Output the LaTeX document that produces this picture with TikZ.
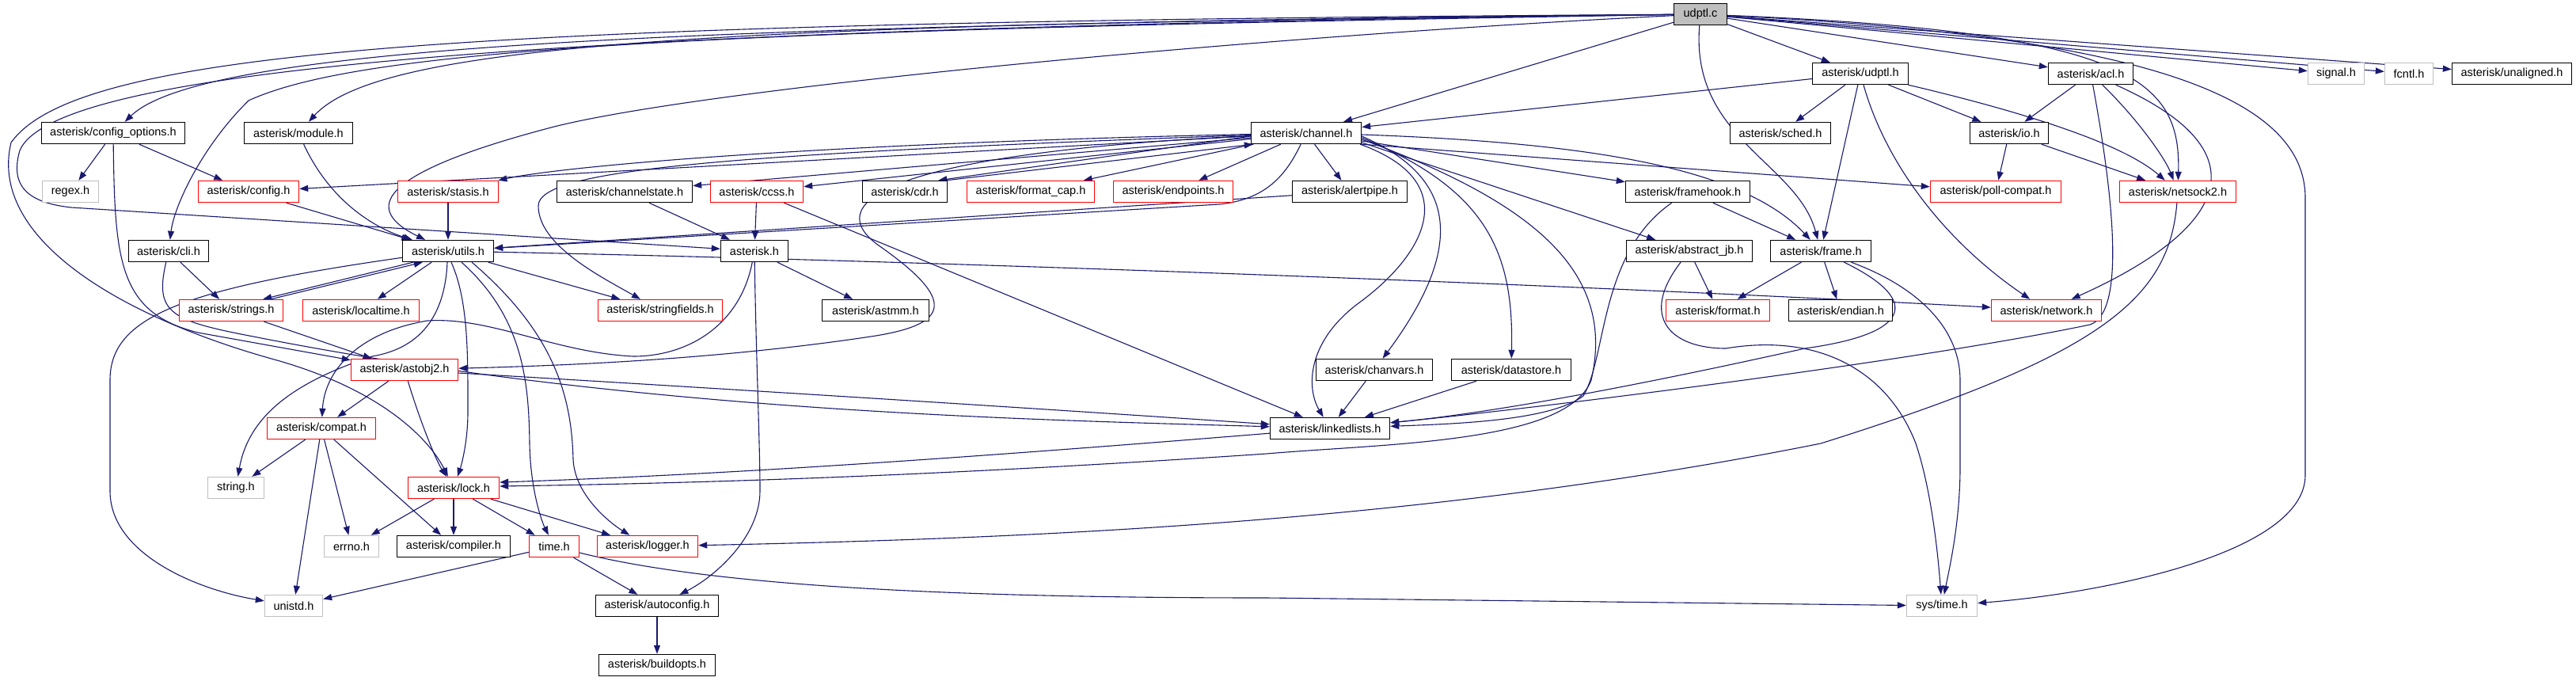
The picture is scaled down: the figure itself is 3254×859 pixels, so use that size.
\documentclass[tikz,border=0pt]{standalone}
\usepackage{fontspec}
\setmainfont{Liberation Sans}
\usetikzlibrary{arrows.meta,calc}
\definecolor{edgeblue}{HTML}{191970}
\definecolor{boxgray}{HTML}{BFBFBF}
\definecolor{boxred}{HTML}{FF0000}
\newcommand\nodefontsize{\fontsize{14.5}{17}\selectfont}
\pgfdeclarelayer{back}
\pgfdeclarelayer{edges}
\pgfsetlayers{back,edges,main}
\begin{document}
\begin{tikzpicture}[x=1pt,y=-1pt,
  nb/.style={draw=black, line width=1.4pt, fill=white, minimum height=27pt, inner sep=0pt, font=\nodefontsize},
  nr/.style={nb, draw=boxred},
  ng/.style={nb, draw=boxgray},
  nroot/.style={nb, fill=boxgray},
  dep/.style={draw=edgeblue, line width=1.1pt, -{Triangle[length=11pt,width=8pt]}}]
\begin{pgfonlayer}{back}
\fill[white] (0,0) rectangle (3254,859);
\end{pgfonlayer}
\useasboundingbox (0,0) rectangle (3254,859);
% row 1
\node[nroot, minimum width=67pt] (udptl) at (2148,18) {udptl.c};
% row 2
\node[nb, minimum width=121pt] (udptlh) at (2350,93) {asterisk/udptl.h};
\node[nb, minimum width=107pt] (acl) at (2641,93) {asterisk/acl.h};
\node[ng, minimum width=71pt] (signal) at (2951,93) {signal.h};
\node[ng, minimum width=61pt] (fcntl) at (3043,93) {fcntl.h};
\node[nb, minimum width=151pt] (unaligned) at (3173,93) {asterisk/unaligned.h};
% row 3
\node[nb, minimum width=181pt] (cfgopt) at (143,168) {asterisk/config\_options.h};
\node[nb, minimum width=137pt] (module) at (377,168) {asterisk/module.h};
\node[nb, minimum width=139pt] (channel) at (1650,168) {asterisk/channel.h};
\node[nb, minimum width=127pt] (sched) at (2249,168) {asterisk/sched.h};
\node[nb, minimum width=99pt] (io) at (2538,168) {asterisk/io.h};
% row 4
\node[ng, minimum width=71pt] (regex) at (89,242) {regex.h};
\node[nr, minimum width=127pt] (config) at (314,242) {asterisk/config.h};
\node[nr, minimum width=127pt] (stasis) at (566,242) {asterisk/stasis.h};
\node[nb, minimum width=171pt] (chstate) at (789,242) {asterisk/channelstate.h};
\node[nr, minimum width=117pt] (ccss) at (956,242) {asterisk/ccss.h};
\node[nb, minimum width=107pt] (cdr) at (1143,242) {asterisk/cdr.h};
\node[nr, minimum width=161pt] (fmtcap) at (1302,242) {asterisk/format\_cap.h};
\node[nr, minimum width=151pt] (endpoints) at (1482,242) {asterisk/endpoints.h};
\node[nb, minimum width=145pt] (alertpipe) at (1705,242) {asterisk/alertpipe.h};
\node[nb, minimum width=157pt] (framehook) at (2132,242) {asterisk/framehook.h};
\node[nr, minimum width=165pt] (pollcompat) at (2521,242) {asterisk/poll-compat.h};
\node[nr, minimum width=147pt] (netsock) at (2751,242) {asterisk/netsock2.h};
% row 5
\node[nb, minimum width=101pt] (cli) at (213,317) {asterisk/cli.h};
\node[nb, minimum width=115pt] (utils) at (566,317) {asterisk/utils.h};
\node[nb, minimum width=85pt] (asterisk) at (953,317) {asterisk.h};
\node[nb, minimum width=159pt] (abjb) at (2134,317) {asterisk/abstract\_jb.h};
\node[nb, minimum width=127pt] (frame) at (2300,317) {asterisk/frame.h};
% row 6
\node[nr, minimum width=131pt] (strings) at (292,392) {asterisk/strings.h};
\node[nr, minimum width=147pt] (localtime) at (456,392) {asterisk/localtime.h};
\node[nr, minimum width=157pt] (strfields) at (834,392) {asterisk/stringfields.h};
\node[nb, minimum width=135pt] (astmm) at (1106,392) {asterisk/astmm.h};
\node[nr, minimum width=131pt] (format) at (2170,392) {asterisk/format.h};
\node[nb, minimum width=131pt] (endian) at (2325,392) {asterisk/endian.h};
\node[nr, minimum width=139pt] (network) at (2585,392) {asterisk/network.h};
% row 7
\node[nr, minimum width=135pt] (astobj) at (511,467) {asterisk/astobj2.h};
\node[nb, minimum width=147pt] (chanvars) at (1736,467) {asterisk/chanvars.h};
\node[nb, minimum width=151pt] (datastore) at (1909,467) {asterisk/datastore.h};
% row 8
\node[nr, minimum width=137pt] (compat) at (406,541) {asterisk/compat.h};
\node[nb, minimum width=151pt] (linked) at (1680,541) {asterisk/linkedlists.h};
% row 9
\node[ng, minimum width=71pt] (stringh) at (298,616) {string.h};
\node[nr, minimum width=115pt] (lock) at (573,616) {asterisk/lock.h};
% row 10
\node[ng, minimum width=69pt] (errno) at (444,690) {errno.h};
\node[nb, minimum width=143pt] (compiler) at (573,690) {asterisk/compiler.h};
\node[nr, minimum width=63pt] (timeh) at (700,690) {time.h};
\node[nr, minimum width=127pt] (logger) at (818,690) {asterisk/logger.h};
% row 11
\node[ng, minimum width=73pt] (unistd) at (371,765) {unistd.h};
\node[nb, minimum width=155pt] (autoconf) at (830,765) {asterisk/autoconfig.h};
\node[ng, minimum width=89pt] (systime) at (2453,765) {sys/time.h};
% row 12
\node[nb, minimum width=147pt] (buildopts) at (830,840) {asterisk/buildopts.h};

\begin{pgfonlayer}{edges}
% udptl.c
\draw[dep] (udptl) .. controls (900,32) and (260,55) .. (cfgopt);
\draw[dep] (udptl) .. controls (900,30) and (480,55) .. (module);
\draw[dep] (udptl) .. controls (900,38) and (460,60) .. (314,127) .. controls (255,185) and (220,260) .. (cli);
\draw[dep] (udptl) .. controls (1600,45) and (900,110) .. (700,160) .. controls (470,220) and (460,265) .. (utils);
\draw[dep] (udptl) .. controls (700,36) and (70,85) .. (25,190) .. controls (12,235) and (35,256) .. (90,262) -- (asterisk);
\draw[dep] (udptl) .. controls (600,28) and (100,60) .. (14,180) .. controls (-15,300) and (150,400) .. (350,455) .. controls (490,495) and (545,560) .. (lock);
\draw[dep] (udptl) -- (channel);
\draw[dep] (udptl) .. controls (2135,175) and (2270,205) .. (frame);
\draw[dep] (udptl) -- (udptlh);
\draw[dep] (udptl) -- (acl);
\draw[dep] (udptl) .. controls (2690,40) and (2755,100) .. (netsock);
\draw[dep] (udptl) -- (signal);
\draw[dep] (udptl) -- (fcntl);
\draw[dep] (udptl) -- (unaligned);
\draw[dep] (udptl) .. controls (2700,45) and (2912,120) .. (2912,250) -- (2912,600) .. controls (2912,700) and (2650,750) .. (systime);
% udptl.h
\draw[dep] (udptlh) -- (channel);
\draw[dep] (udptlh) -- (sched);
\draw[dep] (udptlh) -- (frame);
\draw[dep] (udptlh) -- (io);
\draw[dep] (udptlh) .. controls (2550,140) and (2680,180) .. (netsock);
\draw[dep] (udptlh) .. controls (2380,200) and (2450,300) .. (network);
% acl.h
\draw[dep] (acl) -- (io);
\draw[dep] (acl) .. controls (2700,150) and (2735,200) .. (netsock);
\draw[dep] (acl) .. controls (2880,200) and (2790,300) .. (network);
\draw[dep] (acl) .. controls (2670,250) and (2685,395) .. (2640,410) .. controls (2400,460) and (1900,520) .. (linked);
% io.h
\draw[dep] (io) -- (pollcompat);
\draw[dep] (io) -- (netsock);
% netsock2.h
\draw[dep] (netsock) .. controls (2740,380) and (2650,450) .. (2300,560) .. controls (1800,660) and (1300,680) .. (logger);
% channel.h
\draw[dep] (channel) -- (config);
\draw[dep] (channel) .. controls (1000,182) and (700,212) .. (stasis);
\draw[dep] (channel) .. controls (900,195) and (680,215) .. (680,260) .. controls (680,310) and (760,350) .. (strfields);
\draw[dep] (channel) .. controls (1625,220) and (1600,252) .. (1540,258) -- (utils);
\draw[dep] (channel) -- (chstate);
\draw[dep] (channel) -- (ccss);
\draw[dep] ($(channel.west)+(0,4)$) -- ($(cdr.north east)+(-12,0)$);
\draw[dep] ($(cdr.north east)+(-2,0)$) -- ($(channel.south west)+(3,0)$);
\draw[dep] (channel) -- (fmtcap);
\draw[dep] (channel) -- (endpoints);
\draw[dep] (channel) -- (alertpipe);
\draw[dep] (channel) .. controls (1100,195) and (1040,260) .. (1110,310) .. controls (1210,380) and (1200,410) .. (1100,425) .. controls (900,455) and (700,462) .. (astobj);
\draw[dep] ($(channel.south east)+(-2,0)$) .. controls (1850,230) and (1800,320) .. (1720,380) .. controls (1650,430) and (1650,490) .. (linked);
\draw[dep] ($(channel.east)+(0,4)$) .. controls (1830,220) and (1860,300) .. (chanvars);
\draw[dep] ($(channel.east)+(0,6)$) .. controls (1880,240) and (1912,320) .. (datastore);
\draw[dep] ($(channel.east)+(0,8)$) .. controls (1950,260) and (2040,350) .. (2010,480) .. controls (1980,560) and (1750,560) .. (1600,573) .. controls (1200,600) and (900,610) .. ($(lock.east)+(0,-2)$);
\draw[dep] ($(channel.east)+(0,12)$) -- (abjb);
\draw[dep] ($(channel.east)+(0,10)$) -- (framehook);
\draw[dep] ($(channel.east)+(0,2)$) .. controls (2000,180) and (2200,210) .. (frame);
\draw[dep] (channel.south east) -- (pollcompat);
% alertpipe.h
\draw[dep] (alertpipe) -- (utils);
% framehook.h
\draw[dep] (framehook) -- (frame);
\draw[dep] (framehook) .. controls (2020,320) and (2030,450) .. (2000,500) .. controls (1960,530) and (1850,535) .. (linked);
% abstract_jb.h
\draw[dep] (abjb) -- (format);
\draw[dep] (abjb) .. controls (2070,400) and (2110,440) .. (2180,440) .. controls (2300,420) and (2385,470) .. (2420,560) .. controls (2440,620) and (2448,700) .. (systime);
% frame.h
\draw[dep] (frame) -- (format);
\draw[dep] (frame) -- (endian);
\draw[dep] (frame) .. controls (2420,375) and (2425,420) .. (2280,440) .. controls (2100,480) and (1900,520) .. (linked);
\draw[dep] (frame) .. controls (2430,365) and (2476,420) .. (2476,480) -- (2476,590) .. controls (2476,660) and (2462,720) .. (systime);
% chanvars, datastore, ccss, channelstate
\draw[dep] (chanvars) -- (linked);
\draw[dep] (datastore) -- (linked);
\draw[dep] (ccss) -- (asterisk);
\draw[dep] (ccss) -- (linked);
\draw[dep] (chstate) -- (asterisk);
% stasis, config, module, config_options, cli
\draw[dep] (stasis) -- (utils);
\draw[dep] (config) -- (utils);
\draw[dep] (module) .. controls (420,260) and (480,290) .. (utils);
\draw[dep] (cfgopt) -- (regex);
\draw[dep] (cfgopt) -- (config);
\draw[dep] (cfgopt) .. controls (145,330) and (150,395) .. (250,420) -- (astobj);
\draw[dep] (cli) -- (strings);
\draw[dep] (cli) .. controls (195,395) and (215,405) .. (320,425) .. controls (800,520) and (1300,530) .. (linked);
% utils.h
\draw[dep] ($(utils.south west)+(14,0)$) -- ($(strings.north east)+(-26,0)$);
\draw[dep] ($(strings.north east)+(-16,0)$) -- ($(utils.south west)+(26,0)$);
\draw[dep] (utils) -- (localtime);
\draw[dep] (utils) -- (strfields);
\draw[dep] (utils) .. controls (1200,330) and (2000,360) .. (network);
\draw[dep] (utils) .. controls (230,365) and (139,400) .. (139,480) -- (139,620) .. controls (139,700) and (250,745) .. (unistd);
\draw[dep] ($(utils.south)+(-1,0)$) .. controls (562,400) and (530,440) .. (470,450) .. controls (380,480) and (315,520) .. (stringh);
\draw[dep] ($(utils.south)+(4,0)$) .. controls (592,380) and (591,450) .. (591,520) .. controls (591,560) and (582,590) .. (lock);
\draw[dep] ($(utils.south)+(17,0)$) .. controls (660,400) and (668,480) .. (669,560) .. controls (670,620) and (685,660) .. (timeh);
\draw[dep] ($(utils.south)+(30,0)$) .. controls (700,420) and (722,500) .. (724,580) .. controls (726,625) and (770,660) .. (logger);
% strings.h, astobj2.h
\draw[dep] (strings) -- (astobj);
\draw[dep] (astobj) -- (compat);
\draw[dep] (astobj) .. controls (530,530) and (550,580) .. (lock);
\draw[dep] (astobj) .. controls (900,490) and (1300,515) .. (linked);
% compat.h
\draw[dep] (compat) -- (stringh);
\draw[dep] (compat) -- (unistd);
\draw[dep] (compat) -- (errno);
\draw[dep] (compat) -- (compiler);
% asterisk.h
\draw[dep] (asterisk) -- (astmm);
\draw[dep] (asterisk) .. controls (955,450) and (960,560) .. (960,620) .. controls (960,680) and (900,730) .. (autoconf);
\draw[dep] (asterisk) .. controls (935,410) and (870,450) .. (800,450) .. controls (700,445) and (620,400) .. (540,405) .. controls (450,420) and (410,470) .. (compat);
% time.h
\draw[dep] (timeh) -- (unistd);
\draw[dep] (timeh) -- (autoconf);
\draw[dep] (timeh) .. controls (900,740) and (1200,755) .. (1600,755) -- (systime);
% lock.h
\draw[dep] (lock) -- (errno);
\draw[dep] (lock) -- (compiler);
\draw[dep] (lock) -- (timeh);
\draw[dep] (lock) -- (logger);
% linkedlists.h
\draw[dep] (linked) .. controls (1200,580) and (900,600) .. ($(lock.east)+(0,-7)$);
% autoconfig.h
\draw[dep] (autoconf) -- (buildopts);
\end{pgfonlayer}
\end{tikzpicture}
\end{document}
